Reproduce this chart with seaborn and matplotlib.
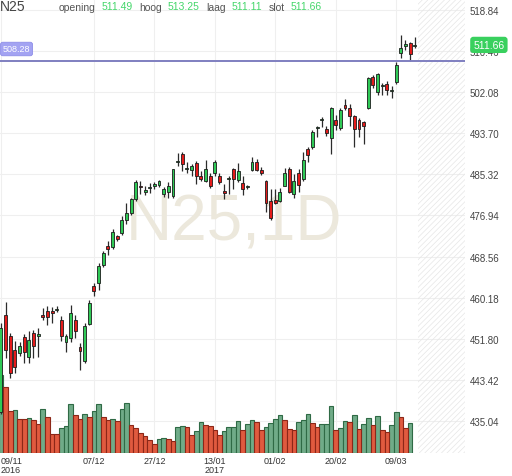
import numpy as np
import pandas as pd
import matplotlib
matplotlib.use('Agg')
import matplotlib.pyplot as plt
import seaborn as sns

# -------------------------------
# DATA (N25 daily)
# -------------------------------
symbol = "N25"

opens = [437.0, 456.7, 452.4, 449.5, 449.0, 452.2, 448.2, 453.0, 452.4, 456.7,
         457.5, 457.5, 457.8, 455.6, 451.2, 452.0, 455.6, 450.2, 447.3, 454.8,
         462.5, 463.1, 466.8, 470.8, 470.6, 472.7, 473.3, 476.1, 477.5, 480.2,
         482.9, 481.8, 482.5, 483.0, 483.2, 481.4, 481.8, 481.0, 487.8, 489.5,
         486.5, 486.1, 487.7, 485.0, 484.0, 485.0, 485.6, 485.0, 482.0, 484.3,
         486.3, 484.2, 483.6, 482.7, 486.1, 487.9, 486.1, 484.0, 479.8, 480.0,
         479.8, 483.0, 486.3, 481.4, 485.6, 484.4, 490.5, 490.9, 494.7, 496.3,
         494.6, 492.7, 496.4, 494.8, 499.4, 498.8, 497.2, 496.4, 496.0, 498.8,
         505.1, 502.1, 503.2, 503.7, 502.2, 504.1, 510.0, 511.4, 512.0, 511.49]

highs = [455.0, 459.3, 453.0, 451.4, 451.2, 452.8, 453.4, 453.6, 454.0, 458.1,
         458.5, 458.3, 458.5, 456.4, 452.9, 458.7, 456.6, 451.0, 455.0, 459.7,
         463.1, 467.2, 469.8, 471.7, 474.1, 473.0, 476.9, 479.4, 480.6, 484.2,
         484.0, 483.0, 483.6, 483.8, 484.2, 482.8, 483.8, 486.5, 489.7, 489.9,
         487.9, 487.5, 488.1, 485.9, 488.3, 485.5, 488.3, 485.5, 483.4, 485.0,
         486.7, 487.7, 485.0, 483.2, 488.9, 488.5, 486.9, 484.2, 482.4, 482.4,
         482.6, 486.7, 486.9, 485.4, 486.5, 489.9, 490.9, 494.4, 495.2, 497.0,
         495.2, 499.0, 497.4, 498.8, 500.7, 499.6, 497.4, 496.8, 496.2, 505.1,
         505.5, 506.0, 503.9, 504.3, 503.3, 508.2, 513.6, 512.6, 512.2, 513.25]

lows = [436.5, 448.0, 443.9, 444.9, 448.4, 446.9, 446.9, 448.0, 448.1, 455.6,
        454.6, 455.0, 457.2, 451.4, 449.1, 451.2, 452.0, 445.5, 447.0, 454.6,
        460.5, 461.7, 466.5, 468.8, 470.2, 471.8, 472.9, 475.3, 477.0, 479.8,
        481.4, 481.2, 481.6, 482.4, 482.8, 480.8, 480.4, 480.4, 487.1, 486.0,
        485.5, 485.0, 483.4, 484.0, 483.8, 482.6, 485.0, 483.4, 480.2, 481.4,
        482.4, 483.8, 481.2, 482.4, 485.9, 485.9, 485.2, 477.7, 476.0, 479.2,
        479.6, 483.0, 481.6, 480.4, 481.8, 484.0, 487.9, 490.5, 493.0, 495.0,
        493.2, 489.5, 494.4, 494.4, 498.4, 495.2, 490.9, 493.0, 491.5, 498.6,
        502.9, 501.4, 501.5, 501.5, 500.9, 503.7, 509.0, 510.7, 508.4, 511.11]

closes = [454.1, 449.5, 444.9, 446.2, 450.4, 449.2, 451.6, 450.4, 452.8, 456.2,
          456.3, 457.0, 458.0, 452.4, 452.4, 457.1, 453.4, 449.3, 454.4, 459.1,
          461.6, 466.6, 469.4, 470.2, 473.5, 472.1, 476.1, 477.5, 480.2, 483.8,
          482.7, 482.2, 482.7, 483.4, 484.0, 482.4, 483.0, 486.3, 488.0, 487.5,
          486.7, 487.1, 484.9, 484.4, 486.3, 483.0, 487.9, 483.8, 481.6, 484.5,
          484.4, 485.9, 482.4, 482.9, 487.9, 486.1, 485.6, 479.4, 476.5, 479.4,
          481.8, 485.6, 481.8, 484.0, 483.2, 488.3, 489.3, 494.0, 494.9, 496.5,
          493.8, 498.8, 495.3, 498.4, 498.8, 497.2, 494.6, 494.6, 495.2, 504.9,
          503.5, 505.7, 503.4, 502.5, 502.4, 507.6, 511.0, 511.8, 509.8, 511.66]

# volume (arbitrary units), no bar yet for the last session
volume = [78.0, 66.0, 41.6, 42.6, 34.3, 34.0, 35.0, 33.3, 29.3, 44.3,
          36.0, 19.3, 19.3, 25.0, 27.3, 48.6, 38.3, 34.0, 39.3, 36.0,
          41.6, 48.6, 36.0, 32.6, 34.0, 31.6, 44.3, 50.0, 28.3, 25.0,
          20.0, 17.3, 13.3, 9.3, 14.0, 15.0, 14.0, 11.6, 26.0, 26.6,
          26.0, 18.3, 21.6, 31.0, 28.3, 27.3, 22.6, 17.6, 21.6, 26.0,
          26.0, 31.6, 23.3, 29.3, 33.3, 31.0, 23.3, 26.0, 30.0, 34.3,
          38.3, 32.6, 24.3, 23.3, 31.0, 33.3, 39.3, 30.0, 26.0, 29.3,
          29.3, 47.3, 23.3, 25.0, 31.6, 31.0, 38.3, 24.0, 29.3, 35.0,
          28.3, 36.6, 22.6, 21.0, 27.6, 41.0, 36.0, 25.0, 30.0]
vol_up = [1, 0, 0, 1, 0, 0, 1, 0, 0, 1,
          0, 0, 0, 1, 1, 1, 0, 0, 1, 0,
          1, 1, 0, 0, 1, 0, 1, 1, 0, 0,
          0, 0, 0, 0, 1, 1, 0, 0, 1, 1,
          0, 0, 1, 1, 0, 0, 0, 0, 1, 1,
          1, 1, 0, 1, 1, 0, 0, 1, 1, 1,
          1, 0, 0, 0, 1, 1, 1, 0, 0, 1,
          1, 1, 0, 1, 1, 0, 1, 0, 1, 1,
          0, 1, 0, 0, 1, 1, 0, 0, 1]

date_ticks = [0, 20, 33, 46, 59, 72, 85]
date_labels = ['09/11\n2016', '07/12', '27/12', '13/01\n2017', '01/02', '20/02', '09/03']
price_ticks = [435.04, 443.42, 451.80, 460.18, 468.56, 476.94, 485.32, 493.70, 502.08, 510.46, 518.84]
alert_level = 508.28

# -------------------------------
# STYLE / LAYOUT
# -------------------------------
sns.set_theme(style='white')
plt.rcParams['font.family'] = ['Liberation Sans', 'DejaVu Sans']
plt.rcParams['hatch.linewidth'] = 0.5

W, H = 512, 477
rect = [0, 1 - 454 / H, 465 / W, 454 / H]
fig = plt.figure(figsize=(W / 100, H / 100), dpi=100)

# bottom layer: grid only
gax = fig.add_axes(rect)
gax.set_zorder(-1)
# middle layer: volume, top layer: candles
ax = fig.add_axes(rect, sharex=gax, sharey=gax)
ax.patch.set_visible(False)
axv = ax.twinx()
ax.set_zorder(axv.get_zorder() + 1)

# -------------------------------
# VOLUME
# -------------------------------
days = np.arange(len(closes))
vol = pd.DataFrame({'day': days[:len(volume)], 'volume': volume, 'up': vol_up})
for flag, fc, ec in [(1, '#70ab88', '#2f6a45'), (0, '#e05a3f', '#8c2718')]:
    sub = vol[vol['up'] == flag]
    sns.barplot(data=sub, x='day', y='volume', native_scale=True, width=1.0,
                color=fc, saturation=1, edgecolor=ec, linewidth=0.8,
                errorbar=None, ax=axv)
axv.set_ylim(0, max(volume) * 5.8)
axv.set_yticks([])
axv.set_xlabel('')
axv.set_ylabel('')
for s in axv.spines.values():
    s.set_visible(False)

# -------------------------------
# CANDLES
# -------------------------------
ohlc = pd.DataFrame({'day': days, 'open': opens, 'high': highs, 'low': lows, 'close': closes})
up = ohlc['close'] >= ohlc['open']
body_lo = ohlc[['open', 'close']].min(axis=1)
body_h = (ohlc['close'] - ohlc['open']).abs().clip(lower=0.15)

ax.vlines(ohlc['day'], ohlc['low'], ohlc['high'], color='#2b2b2b', lw=0.9, zorder=3)
ax.bar(ohlc['day'], body_h, bottom=body_lo, width=0.62,
       color=np.where(up, '#2fc956', '#e41b1b'), edgecolor='#1c1c1c',
       linewidth=0.6, zorder=4)

ax.set_xlim(-0.2, 99.8)
ax.set_ylim(428.6, 521.0)

# future area + alert line
ax.axvspan(len(closes) - 0.4, 99.8, facecolor='none', edgecolor='#e6e6e6',
           hatch='//////', lw=0, zorder=1)
ax.axhline(alert_level, color='#7f7fc0', lw=1.4, zorder=5)

# ticks
ax.set_xticks(date_ticks)
ax.set_xticklabels(date_labels, fontsize=6.5, color='#333333', linespacing=1.0)
ax.get_xticklabels()[0].set_ha('left')
ax.yaxis.tick_right()
ax.set_yticks(price_ticks)
ax.set_yticklabels([f'{p:.2f}' for p in price_ticks], fontsize=7, color='#444444')
ax.tick_params(axis='x', length=0, pad=2)
ax.tick_params(axis='y', length=0, pad=3.6)
ax.grid(False)
for s in ax.spines.values():
    s.set_visible(False)

gax.grid(True, color='#efefef', lw=0.8)
gax.tick_params(left=False, bottom=False, labelleft=False, labelbottom=False)
for s in gax.spines.values():
    s.set_visible(False)

# labels on the chart
ax.annotate(f'{alert_level:.2f}', xy=(0.006, alert_level), xycoords=ax.get_yaxis_transform(),
            xytext=(0, 9), textcoords='offset points', ha='left', va='center',
            fontsize=6.5, color='white', zorder=6,
            bbox=dict(boxstyle='round,pad=0.25', fc='#a3a3f2', ec='#8e8ee8', lw=0.6))
ax.annotate(f'{closes[-1]:.2f}', xy=(1, closes[-1]), xycoords=ax.get_yaxis_transform(),
            xytext=(6, 0), textcoords='offset points', ha='left', va='center',
            fontsize=7.5, color='white', zorder=6, annotation_clip=False,
            bbox=dict(boxstyle='round,pad=0.3', fc='#39d05e', ec='none'))

ax.text(0.503, 0.507, f'{symbol},1D', transform=ax.transAxes, ha='center', va='center',
        fontsize=46, color='#ece8dc', zorder=0.6)

# header
fig.text(0, 1 - 7 / H, symbol, fontsize=10, color='#444444', va='center', ha='left')
header = [('opening', opens[-1], 59, 102), ('hoog', highs[-1], 139, 168),
          ('laag', lows[-1], 206, 232), ('slot', closes[-1], 269, 291)]
for name, value, x_name, x_val in header:
    fig.text(x_name / W, 1 - 8 / H, name, fontsize=7.5, color='#555555', va='center')
    fig.text(x_val / W, 1 - 7 / H, f'{value:.2f}', fontsize=7.5, color='#44d66a', va='center')

plt.savefig('out.png', dpi=100)
plt.close()
